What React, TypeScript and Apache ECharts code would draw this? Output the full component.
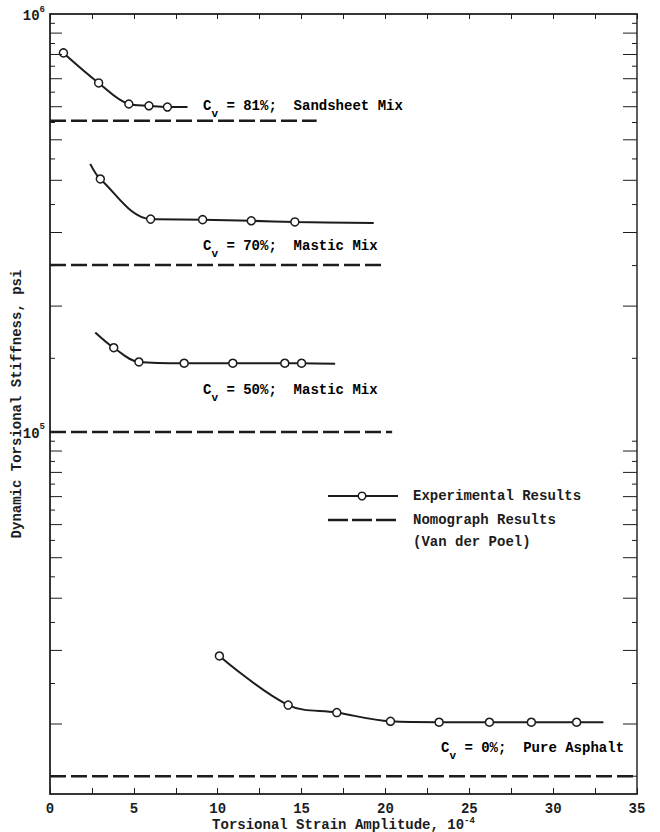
import React, { useEffect, useRef } from 'react';
import * as echarts from 'echarts';

// ---- Data ----
// Cv = 81%; Sandsheet Mix
const cv81X = [0.8, 2.9, 4.7, 5.9, 7.0];
const cv81Y = [807000, 684000, 609000, 603000, 599000];
const cv81Lead: number[] = [];
const cv81Tail = [8.2, 599000];

// Cv = 70%; Mastic Mix
const cv70X = [3.0, 6.0, 9.1, 12.0, 14.6];
const cv70Y = [403000, 323000, 322000, 320000, 318000];
const cv70Lead = [2.4, 438000];
const cv70Tail = [19.3, 316000];

// Cv = 50%; Mastic Mix
const cv50X = [3.8, 5.3, 8.0, 10.9, 14.0, 15.0];
const cv50Y = [159000, 147000, 146000, 146000, 146000, 146000];
const cv50Lead = [2.7, 173000];
const cv50Tail = [17.0, 145500];

// Cv = 0%; Pure Asphalt
const cv0X = [10.1, 14.2, 17.1, 20.3, 23.2, 26.2, 28.7, 31.4];
const cv0Y = [29100, 22200, 21300, 20300, 20200, 20200, 20200, 20200];
const cv0Lead: number[] = [];
const cv0Tail = [33.0, 20200];

// Nomograph results (Van der Poel)
const nomoY = [555000, 251000, 100000, 15000];
const nomoXEnd = [15.9, 20.0, 20.4, 35];

// Axis
const xMin = 0;
const xMax = 35;
const yMin = 13600;
const yMax = 1000000;
const yTickValues = [
  15000, 20000, 25000, 30000, 35000, 40000, 45000, 50000, 55000, 60000, 65000, 70000, 75000, 80000, 85000, 90000, 95000,
  150000, 200000, 250000, 300000, 350000, 400000, 450000, 500000, 550000, 600000, 650000, 700000, 750000, 800000, 850000, 900000, 950000,
];

const FONT = '"Liberation Mono", "DejaVu Sans Mono", monospace';
const INK = '#1c1c1c';

function buildLine(xs: number[], ys: number[], lead: number[], tail: number[]) {
  const out: any[] = [];
  if (lead.length) out.push({ value: lead, symbol: 'none' });
  xs.forEach((x, i) => out.push({ value: [x, ys[i]] }));
  if (tail.length) out.push({ value: tail, symbol: 'none' });
  return out;
}

export default function App() {
  const ref = useRef<HTMLDivElement>(null);

  useEffect(() => {
    if (!ref.current) return;
    const chart = echarts.init(ref.current, null, { renderer: 'svg' });

    const expSeries = [
      buildLine(cv81X, cv81Y, cv81Lead, cv81Tail),
      buildLine(cv70X, cv70Y, cv70Lead, cv70Tail),
      buildLine(cv50X, cv50Y, cv50Lead, cv50Tail),
      buildLine(cv0X, cv0Y, cv0Lead, cv0Tail),
    ].map((data, i) => ({
      type: 'line',
      name: 'Experimental Results ' + i,
      data,
      smooth: 0.35,
      symbol: 'circle',
      symbolSize: 8,
      showAllSymbol: true,
      itemStyle: { color: '#ffffff', borderColor: INK, borderWidth: 1.5 },
      lineStyle: { color: INK, width: 2 },
      z: 4,
      silent: true,
    }));

    const nomoSeries = nomoY.map((y, i) => ({
      type: 'line',
      name: 'Nomograph ' + i,
      data: [[xMin, y], [nomoXEnd[i], y]],
      symbol: 'none',
      lineStyle: { color: INK, width: 2.5, type: [16, 5] },
      z: 3,
      silent: true,
    }));

    const tickSeries = {
      type: 'custom',
      data: yTickValues.map((v) => [xMin, v]),
      clip: false,
      silent: true,
      z: 5,
      renderItem: (params: any, api: any) => {
        const v = api.value(1);
        const mant = v / Math.pow(10, Math.floor(Math.log10(v) + 1e-9));
        const isLong = Math.abs(mant - Math.round(mant)) < 1e-6;
        const pl = api.coord([xMin, v]);
        const pr = api.coord([xMax, v]);
        const lenL = isLong ? 12 : 5;
        const lenR = isLong ? 14 : 5;
        return {
          type: 'group',
          children: [
            { type: 'line', shape: { x1: pl[0], y1: pl[1], x2: pl[0] + lenL, y2: pl[1] }, style: { stroke: INK, lineWidth: 1 } },
            { type: 'line', shape: { x1: pr[0], y1: pr[1], x2: pr[0] - lenR, y2: pr[1] }, style: { stroke: INK, lineWidth: 1 } },
          ],
        };
      },
    };

    const subRich = {
      n: { fontFamily: FONT, fontSize: 14, fontWeight: 'bold', color: INK, lineHeight: 20, verticalAlign: 'middle' },
      s: { fontFamily: FONT, fontSize: 11, fontWeight: 'bold', color: INK, lineHeight: 20, verticalAlign: 'bottom', padding: [0, 0, -3, 0] },
    };

    const annot = (x: number, y: number, pct: string, mix: string) => ({
      type: 'text',
      x,
      y,
      style: {
        text: `{n|C}{s|v}{n| = ${pct};  ${mix}}`,
        rich: subRich,
        verticalAlign: 'middle',
      },
      silent: true,
    });

    const legendText = (x: number, y: number, t: string) => ({
      type: 'text',
      x,
      y,
      style: { text: t, font: `bold 14px ${FONT}`, fill: INK, verticalAlign: 'middle' },
      silent: true,
    });

    chart.setOption({
      animation: false,
      backgroundColor: '#ffffff',
      grid: {
        left: 50,
        right: 23,
        top: 14,
        bottom: 38,
        containLabel: false,
        outerBoundsMode: 'none',
        show: true,
        borderColor: '#2a2a2a',
        borderWidth: 1.5,
      },
      xAxis: [
        {
          type: 'value',
          min: xMin,
          max: xMax,
          interval: 2.5,
          position: 'bottom',
          axisLine: { show: true, lineStyle: { color: '#2a2a2a', width: 1.5 } },
          axisTick: { show: true, inside: true, length: 6, lineStyle: { color: INK, width: 1 } },
          splitLine: { show: false },
          axisLabel: {
            margin: 8,
            fontFamily: FONT,
            fontSize: 14,
            fontWeight: 'bold',
            color: INK,
            formatter: (v: number) => (Math.abs(v % 5) < 1e-9 ? String(v) : ''),
          },
          name: '{a|Torsional Strain Amplitude, 10}{b|-4}',
          nameLocation: 'middle',
          nameGap: 22,
          nameMoveOverlap: false,
          nameTextStyle: {
            rich: {
              a: { fontFamily: FONT, fontSize: 14, fontWeight: 'bold', color: INK, lineHeight: 16, verticalAlign: 'bottom' },
              b: { fontFamily: FONT, fontSize: 9, fontWeight: 'bold', color: INK, lineHeight: 16, verticalAlign: 'top' },
            },
          },
        },
        {
          type: 'value',
          min: xMin,
          max: xMax,
          interval: 2.5,
          position: 'top',
          axisLine: { show: true, lineStyle: { color: '#2a2a2a', width: 1.5 } },
          axisTick: { show: true, inside: true, length: 5, lineStyle: { color: INK, width: 1 } },
          splitLine: { show: false },
          axisLabel: { show: false },
        },
      ],
      yAxis: {
        type: 'log',
        logBase: 10,
        min: yMin,
        max: yMax,
        axisLine: { show: true, lineStyle: { color: '#2a2a2a', width: 1.5 } },
        axisTick: { show: false },
        splitLine: { show: false },
        axisLabel: {
          margin: 5,
          formatter: (v: number) => {
            const e = Math.log10(v);
            if (Math.abs(e - Math.round(e)) > 1e-6) return '';
            return `{b|10}{s|${Math.round(e)}}`;
          },
          rich: {
            b: { fontFamily: FONT, fontSize: 14, fontWeight: 'bold', color: INK, lineHeight: 18, verticalAlign: 'bottom' },
            s: { fontFamily: FONT, fontSize: 9, fontWeight: 'bold', color: INK, lineHeight: 18, verticalAlign: 'top' },
          },
        },
        name: 'Dynamic Torsional Stiffness, psi',
        nameLocation: 'middle',
        nameGap: 26,
        nameMoveOverlap: false,
        nameTextStyle: { fontFamily: FONT, fontSize: 14, fontWeight: 'bold', color: INK },
      },
      series: [...nomoSeries, ...expSeries, tickSeries],
      graphic: [
        annot(203, 106, '81%', 'Sandsheet Mix'),
        annot(203, 246, '70%', 'Mastic Mix'),
        annot(203, 390, '50%', 'Mastic Mix'),
        annot(441, 748, '0%', 'Pure Asphalt'),
        // legend
        { type: 'line', shape: { x1: 328, y1: 496, x2: 398, y2: 496 }, style: { stroke: INK, lineWidth: 2 }, silent: true },
        { type: 'circle', shape: { cx: 362, cy: 496, r: 3.8 }, style: { fill: '#ffffff', stroke: INK, lineWidth: 1.5 }, silent: true },
        legendText(413, 496, 'Experimental Results'),
        { type: 'line', shape: { x1: 328, y1: 520, x2: 398, y2: 520 }, style: { stroke: INK, lineWidth: 2.5, lineDash: [20, 4] }, silent: true },
        legendText(413, 520, 'Nomograph Results'),
        legendText(413, 542, '(Van der Poel)'),
      ],
    });

    return () => chart.dispose();
  }, []);

  return <div ref={ref} style={{ position: 'absolute', left: 0, top: 0, width: 660, height: 832, background: '#fff' }} />;
}
